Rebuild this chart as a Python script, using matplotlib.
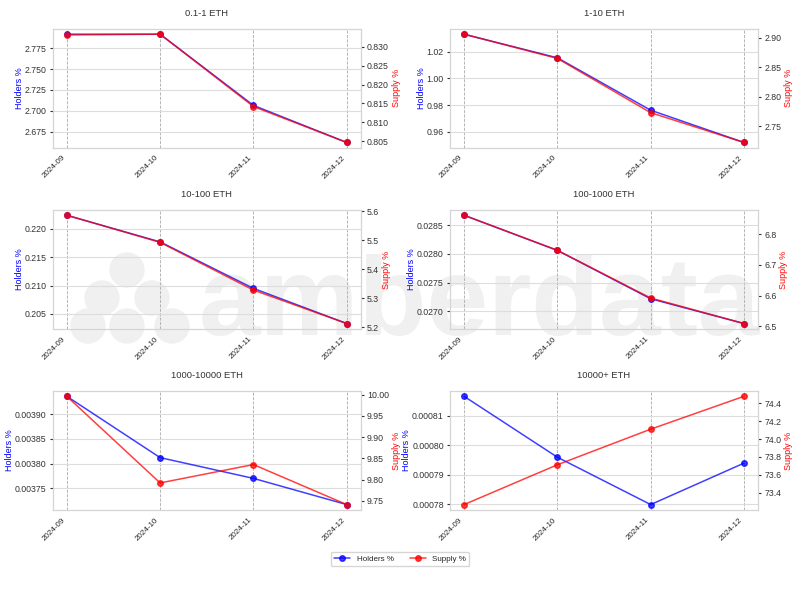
import matplotlib
matplotlib.use("Agg")
import matplotlib.pyplot as plt
from matplotlib.patches import Circle
from matplotlib.ticker import MaxNLocator
import seaborn as sns

months = ["2024-09", "2024-10", "2024-11", "2024-12"]
cohorts = ["0.1-1 ETH", "1-10 ETH", "10-100 ETH", "100-1000 ETH", "1000-10000 ETH", "10000+ ETH"]

holders_01_1 = [2.7916, 2.7916, 2.7066, 2.6623]
holders_1_10 = [1.0332, 1.0155, 0.9762, 0.9520]
holders_10_100 = [0.2224, 0.2177, 0.2095, 0.2033]
holders_100_1000 = [0.02867, 0.02806, 0.02722, 0.02679]
holders_1000_10000 = [0.003936, 0.003812, 0.003770, 0.003717]
holders_10000 = [0.0008166, 0.000796, 0.00077997, 0.000794]

supply_01_1 = [0.8331, 0.8333, 0.8142, 0.8047]
supply_1_10 = [2.906, 2.865, 2.773, 2.7225]
supply_10_100 = [5.586, 5.4926, 5.328, 5.2126]
supply_100_1000 = [6.8626, 6.748, 6.592, 6.5086]
supply_1000_10000 = [9.996, 9.7924, 9.8356, 9.7415]
supply_10000 = [73.268, 73.7125, 74.11, 74.477]

holders = [holders_01_1, holders_1_10, holders_10_100,
           holders_100_1000, holders_1000_10000, holders_10000]
supply = [supply_01_1, supply_1_10, supply_10_100,
          supply_100_1000, supply_1000_10000, supply_10000]

sns.set_style("whitegrid")
plt.rcParams["font.family"] = ["Liberation Sans", "DejaVu Sans"]

fig, axes = plt.subplots(3, 2, figsize=(8, 6), dpi=100)
fig.subplots_adjust(left=0.066, right=0.9475, top=0.952, bottom=0.15,
                    wspace=0.29, hspace=0.52)

# faint watermark (logo dots + word), behind the axes
wm = "#f0f0f0"
fig.text(0.6, 0.442, "amberdata", fontsize=80, fontweight="bold", color=wm,
         ha="center", va="baseline", zorder=-2)
for cx, cy in [(1.27, 3.30), (1.02, 3.02), (1.52, 3.02),
               (0.88, 2.74), (1.27, 2.74), (1.72, 2.74)]:
    fig.add_artist(Circle((cx, cy), 0.17, transform=fig.dpi_scale_trans,
                          color=wm, zorder=-2))

steps = [1, 2, 2.5, 5, 10]
for i, ax in enumerate(axes.flat):
    ax.set_facecolor("none")
    x = range(len(months))
    l1, = ax.plot(x, holders[i], color="blue", marker="o", markersize=4,
                  linewidth=1.1, alpha=0.75, label="Holders %")
    ax.set_ylabel("Holders %", color="blue", fontsize=6.5, labelpad=0.5)
    ax.yaxis.set_major_locator(MaxNLocator(nbins=7, steps=steps))
    ax.tick_params(axis="y", labelsize=6.3, labelcolor="#333333", pad=2,
                   left=True, length=2.5, color="#333333")
    ax.set_xticks(list(x))
    ax.set_xticklabels(months, rotation=45, ha="right", fontsize=5.8)
    ax.tick_params(axis="x", pad=1)
    ax.grid(axis="x", linestyle="--", color="#aaaaaa", linewidth=0.6)
    ax.grid(axis="y", color="#dddddd", linewidth=0.8)
    ax.set_title(cohorts[i], fontsize=6.8, color="#333333", pad=9)

    ax2 = ax.twinx()
    l2, = ax2.plot(x, supply[i], color="red", marker="o", markersize=4,
                   linewidth=1.1, alpha=0.75, label="Supply %")
    ax2.set_ylabel("Supply %", color="red", fontsize=6.5, labelpad=2)
    ax2.yaxis.set_major_locator(MaxNLocator(nbins=7, steps=steps))
    ax2.tick_params(axis="y", labelsize=6.3, labelcolor="#333333", length=2.5,
                    pad=2, color="#333333")
    ax2.grid(False)
    for sp in list(ax.spines.values()) + list(ax2.spines.values()):
        sp.set_color("#d5d5d5")

fig.legend([l1, l2], ["Holders %", "Supply %"], loc="center", ncol=2,
           bbox_to_anchor=(0.5, 0.068), fontsize=5.8, frameon=True)

fig.savefig("out.png", dpi=100)
